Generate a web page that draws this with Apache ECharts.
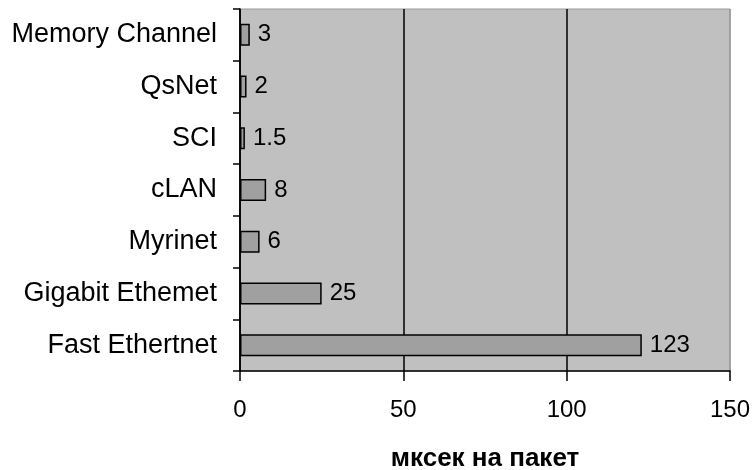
<!DOCTYPE html>
<html>
<head>
<meta charset="utf-8">
<script src="https://cdn.jsdelivr.net/npm/echarts@6/dist/echarts.min.js"></script>
<style>
  html, body { margin: 0; padding: 0; background: #fff; }
  #chart { width: 753px; height: 470px; }
</style>
</head>
<body>
<div id="chart"></div>
<script>
  // сети и задержка (мксек на пакет)
  var networks = ['Memory Channel', 'QsNet', 'SCI', 'cLAN', 'Myrinet', 'Gigabit Ethemet', 'Fast Ethertnet'];
  var latency = [3, 2, 1.5, 8, 6, 25, 123];
  var axisTitle = 'мксек на пакет';

  var font = '"Liberation Sans", Arial, sans-serif';
  var chart = echarts.init(document.getElementById('chart'));

  chart.setOption({
    animation: false,
    grid: {
      left: 240,
      right: 23,
      top: 9,
      bottom: 99,
      outerBoundsMode: 'none',
      containLabel: false,
      show: true,
      backgroundColor: '#c0c0c0',
      borderColor: '#999',
      borderWidth: 1
    },
    xAxis: {
      type: 'value',
      min: 0,
      max: 150,
      interval: 50,
      name: axisTitle,
      nameLocation: 'middle',
      nameGap: 75,
      nameTextStyle: { fontFamily: font, fontSize: 26, fontWeight: 'bold', color: '#000' },
      axisLine: { show: true, lineStyle: { color: '#000', width: 1.5 } },
      axisTick: { show: true, length: 10, lineStyle: { color: '#000', width: 1.5 } },
      axisLabel: { margin: 27, fontFamily: font, fontSize: 24, color: '#000' },
      splitLine: { show: true, lineStyle: { color: ['#000', '#000', '#000', '#999'], width: 1.5 } }
    },
    yAxis: {
      type: 'category',
      data: networks,
      inverse: true,
      axisLine: { show: true, lineStyle: { color: '#000', width: 1.5 } },
      axisTick: { show: true, length: 7, lineStyle: { color: '#000', width: 1.5 } },
      axisLabel: { margin: 23, fontFamily: font, fontSize: 27, color: '#000' },
      splitLine: { show: false }
    },
    series: [{
      type: 'bar',
      data: latency,
      barWidth: 22,
      itemStyle: { color: '#a0a0a0', borderColor: '#000', borderWidth: 1.5 },
      label: {
        show: true,
        position: 'right',
        distance: 8,
        fontFamily: font,
        fontSize: 24,
        color: '#000'
      }
    }]
  });
</script>
</body>
</html>
